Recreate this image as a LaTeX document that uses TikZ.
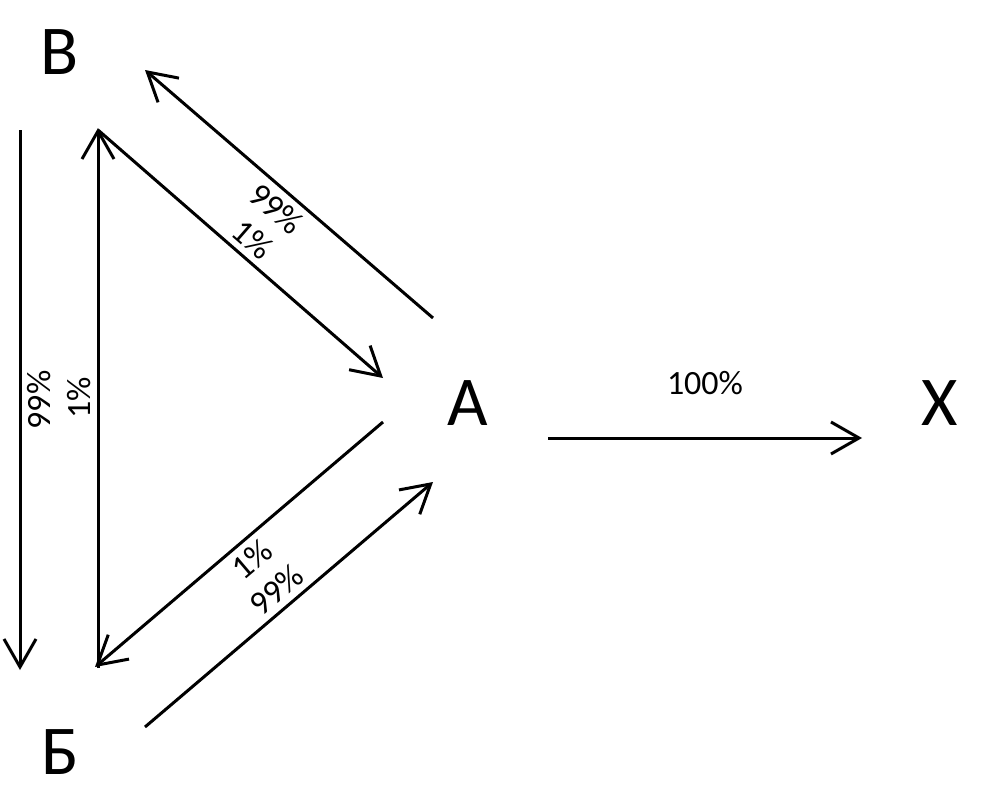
\documentclass[tikz,border=0pt]{standalone}
\usepackage{fontspec}
\setmainfont{Carlito}
\usepackage{tikz}
\usetikzlibrary{arrows.meta}

\begin{document}
\begin{tikzpicture}[x=1pt, y=-1pt,
  uzel/.style={font=\fontsize{70}{80}\selectfont, inner sep=0pt},
  strel/.style={-{Straight Barb[length=28pt, width=32pt]}, line width=3pt},
  podp/.style={font=\fontsize{34}{40}\selectfont, inner sep=6pt}]
\useasboundingbox (0,0) rectangle (1000,800);
% vershiny
\node[uzel] (v) at (60,52) {В};
\node[uzel] (a) at (468,403) {А};
\node[uzel] (b) at (60,752) {Б};
\node[uzel] (x) at (940,403) {Х};
% koncy strelok
\coordinate (vb1) at (20,130);   \coordinate (bv1) at (20,670);
\coordinate (bv2) at (98,668);   \coordinate (vb2) at (98,128);
\coordinate (av1) at (433,318);  \coordinate (va1) at (145,70);
\coordinate (va2) at (98,130);   \coordinate (av2) at (383,378);
\coordinate (ab1) at (383,422);  \coordinate (ba1) at (95,667);
\coordinate (ba2) at (145,727);  \coordinate (ab2) at (433,482);
\coordinate (ax) at (548,438);   \coordinate (xa) at (862,438);
% strelki
\draw[strel] (vb1) -- node[podp, midway, rotate=90, anchor=north]{99\%} (bv1);
\draw[strel] (bv2) -- node[podp, midway, rotate=90, anchor=south]{1\%} (vb2);
\draw[strel] (av1) -- node[podp, midway, sloped, below]{99\%} (va1);
\draw[strel] (va2) -- node[podp, midway, sloped, above]{1\%} (av2);
\draw[strel] (ab1) -- node[podp, midway, sloped, below]{1\%} (ba1);
\draw[strel] (ba2) -- node[podp, midway, sloped, above]{99\%} (ab2);
\draw[strel] (ax) -- node[podp, midway, above=36pt]{100\%} (xa);
\end{tikzpicture}
\end{document}
